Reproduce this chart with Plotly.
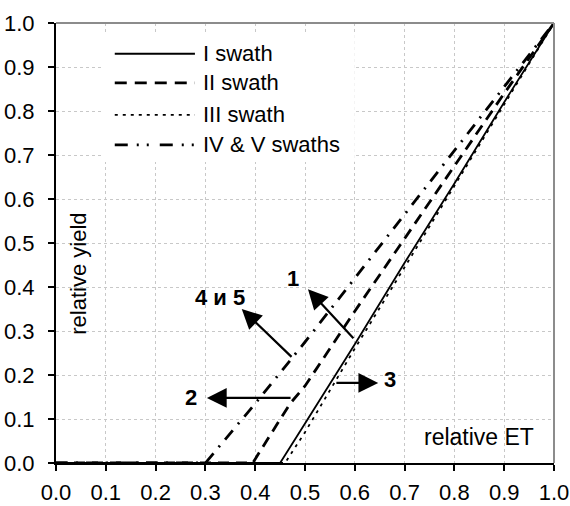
import plotly.graph_objects as go

# ---- data ----
swath1_x = [0.0, 0.45, 0.5, 0.6, 0.7, 0.8, 0.9, 1.0]
swath1_y = [0.0, 0.0, 0.09, 0.27, 0.455, 0.635, 0.82, 1.0]

swath2_x = [0.0, 0.395, 0.47, 0.5, 0.6, 0.7, 0.8, 0.9, 1.0]
swath2_y = [0.0, 0.0, 0.135, 0.175, 0.345, 0.51, 0.675, 0.84, 1.0]

swath3_x = [0.0, 0.46, 0.5, 0.6, 0.7, 0.8, 0.9, 1.0]
swath3_y = [0.0, 0.0, 0.07, 0.26, 0.445, 0.63, 0.815, 1.0]

swath45_x = [0.0, 0.3, 0.4, 0.5, 0.6, 0.7, 0.8, 0.9, 1.0]
swath45_y = [0.0, 0.0, 0.135, 0.275, 0.42, 0.565, 0.71, 0.855, 1.0]

series_names = ["I swath", "II swath", "III swath", "IV & V swaths"]
tick_vals = [0.0, 0.1, 0.2, 0.3, 0.4, 0.5, 0.6, 0.7, 0.8, 0.9, 1.0]
tick_text = ["0.0", "0.1", "0.2", "0.3", "0.4", "0.5", "0.6", "0.7", "0.8", "0.9", "1.0"]

# curve labels: (text, label x, label y, arrow tail x, tail y, head x, head y)
curve_labels = [
    ("1", 0.476, 0.42, 0.60, 0.28, 0.506, 0.395),
    ("2", 0.271, 0.148, 0.474, 0.148, 0.303, 0.148),
    ("3", 0.671, 0.189, 0.56, 0.182, 0.647, 0.182),
    ("4 и 5", 0.329, 0.377, 0.476, 0.238, 0.373, 0.35),
]

FONT = "Arial, Liberation Sans, sans-serif"
dashes = ["solid", "11px,7px", "3px,5px", "12px,8px,2px,8px"]
widths = [1.8, 2.8, 1.8, 2.8]

fig = go.Figure()
for xs, ys, name, d, w in zip([swath1_x, swath2_x, swath3_x, swath45_x],
                              [swath1_y, swath2_y, swath3_y, swath45_y],
                              series_names, dashes, widths):
    fig.add_trace(go.Scatter(x=xs, y=ys, mode="lines", name=name,
                             line=dict(color="black", width=w, dash=d),
                             showlegend=False))

shapes = []
# white legend box
shapes.append(dict(type="rect", xref="x", yref="y", x0=0.092, x1=0.6, y0=0.684, y1=0.977,
                   fillcolor="white", line=dict(width=0), layer="between"))
# plot border top and right (gray)
shapes.append(dict(type="line", xref="paper", yref="paper", x0=0, x1=1, y0=1, y1=1,
                   line=dict(color="#8c8c8c", width=2)))
shapes.append(dict(type="line", xref="paper", yref="paper", x0=1, x1=1, y0=0, y1=1,
                   line=dict(color="#8c8c8c", width=2)))

legend_y = [0.93, 0.864, 0.791, 0.723]
legend_dash = ["solid", "12px,8px", "3px,5px", "13px,9px,2px,8px,2px,11px"]
annotations = []
for name, ly, d, w in zip(series_names, legend_y, legend_dash, [2, 2.6, 1.8, 2.6]):
    shapes.append(dict(type="line", xref="x", yref="y", x0=0.118, x1=0.279, y0=ly, y1=ly,
                       line=dict(color="black", width=w, dash=d)))
    annotations.append(dict(x=0.291, y=ly, xref="x", yref="y", text=name, showarrow=False,
                            xanchor="left", yanchor="middle",
                            font=dict(family=FONT, size=22, color="black")))

for txt, lx, ly, tx, ty, hx, hy in curve_labels:
    annotations.append(dict(x=hx, y=hy, ax=tx, ay=ty, xref="x", yref="y", axref="x", ayref="y",
                            text="", showarrow=True, arrowhead=2, arrowsize=1.8, arrowwidth=2.2,
                            arrowcolor="black"))
    annotations.append(dict(x=lx, y=ly, xref="x", yref="y", text="<b>%s</b>" % txt,
                            showarrow=False, xanchor="center", yanchor="middle",
                            font=dict(family=FONT, size=22, color="black")))

annotations.append(dict(x=0.046, y=0.43, xref="x", yref="y", text="relative yield", textangle=-90,
                        showarrow=False, xanchor="center", yanchor="middle",
                        font=dict(family=FONT, size=22, color="black")))
annotations.append(dict(x=0.85, y=0.059, xref="x", yref="y", text="relative ET",
                        showarrow=False, xanchor="center", yanchor="middle",
                        font=dict(family=FONT, size=23, color="black")))

axis_common = dict(range=[0, 1], tickvals=tick_vals, ticktext=tick_text, automargin=False,
                   showgrid=True, gridcolor="#c8c8c8", griddash="dot", gridwidth=1,
                   zeroline=False, showline=True, linecolor="black", linewidth=2,
                   ticks="outside", ticklen=6, tickwidth=2, tickcolor="black",
                   tickfont=dict(family=FONT, size=22, color="black"))

fig.update_layout(
    width=570, height=506,
    margin=dict(l=56, r=16, t=23, b=43, pad=0),
    paper_bgcolor="white", plot_bgcolor="white",
    xaxis=dict(**axis_common, ticklabelstandoff=3),
    yaxis=dict(**axis_common, ticklabelstandoff=9),
    shapes=shapes, annotations=annotations,
    showlegend=False,
)

fig.write_html("out.html")
